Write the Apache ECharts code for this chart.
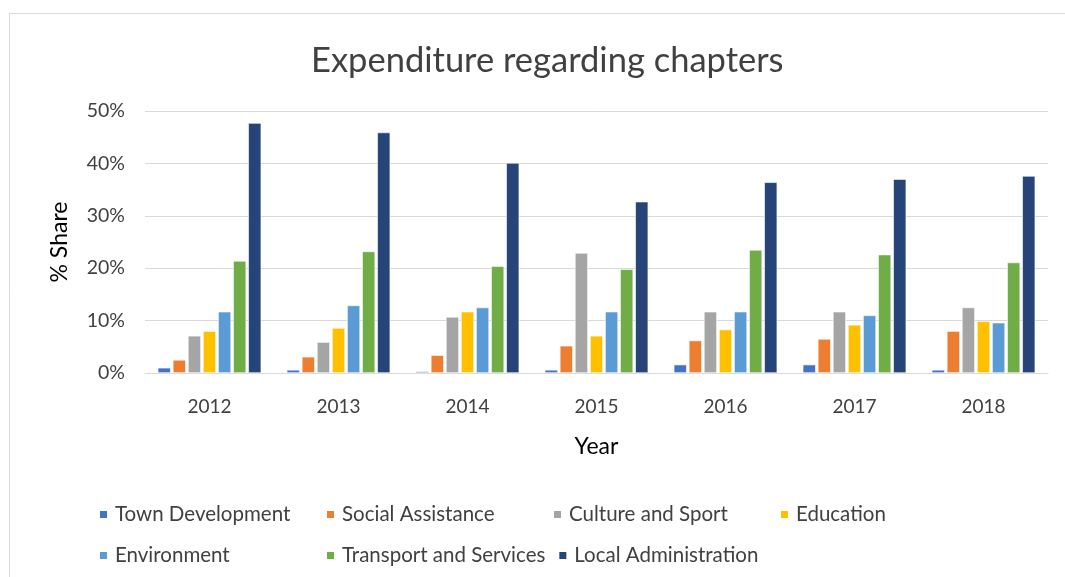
<!DOCTYPE html>
<html>
<head>
<meta charset="utf-8">
<style>
  html, body { margin: 0; padding: 0; background: #fff; }
  #chart { width: 1065px; height: 577px; }
</style>
<script src="https://cdn.jsdelivr.net/npm/echarts@6/dist/echarts.min.js"></script>
</head>
<body>
<div id="chart"></div>
<script>
// Years on the category axis
const years = ['2012', '2013', '2014', '2015', '2016', '2017', '2018'];

// Share of total expenditure (%) per chapter and year
const townDevelopment      = [1.0, 0.6, 0.3, 0.6, 1.6, 1.6, 0.6];
const socialAssistance     = [2.5, 3.1, 3.4, 5.2, 6.2, 6.5, 8.0];
const cultureAndSport      = [7.1, 5.9, 10.7, 22.9, 11.7, 11.7, 12.5];
const education            = [8.0, 8.6, 11.7, 7.1, 8.3, 9.2, 9.9];
const environment          = [11.7, 12.9, 12.5, 11.7, 11.7, 11.0, 9.6];
const transportAndServices = [21.4, 23.2, 20.4, 19.8, 23.5, 22.6, 21.1];
const localAdministration  = [47.7, 45.9, 40.1, 32.7, 36.4, 37.0, 37.6];

// Y-axis ticks (%)
const yTicks = [0, 10, 20, 30, 40, 50];

const seriesDefs = [
  ['Town Development', townDevelopment, '#4472C4'],
  ['Social Assistance', socialAssistance, '#ED7D31'],
  ['Culture and Sport', cultureAndSport, '#A5A5A5'],
  ['Education', education, '#FFC000'],
  ['Environment', environment, '#5B9BD5'],
  ['Transport and Services', transportAndServices, '#70AD47'],
  ['Local Administration', localAdministration, '#264478']
];

const FONT = 'Lato, "Open Sans", sans-serif';

const chart = echarts.init(document.getElementById('chart'), null, { renderer: 'canvas' });

chart.setOption({
  backgroundColor: '#ffffff',
  animation: false,
  textStyle: { fontFamily: FONT },
  title: {
    text: 'Expenditure regarding chapters',
    left: 306,
    top: 38,
    textStyle: { fontFamily: FONT, fontSize: 34.5, fontWeight: 'normal', color: '#404040' }
  },
  graphic: [{
    type: 'polyline',
    shape: { points: [[9.5, 577], [9.5, 13.5], [1065, 13.5]] },
    style: { stroke: '#D9D9D9', lineWidth: 1, fill: null },
    silent: true
  }],
  grid: { left: 145, right: 17, top: 111, height: 262, containLabel: false },
  legend: {
    left: 98,
    top: 500,
    width: 940,
    padding: 0,
    itemWidth: 9,
    itemHeight: 9,
    itemGap: 12,
    icon: 'rect',
    selectedMode: false,
    textStyle: { fontFamily: FONT, fontSize: 20.5, color: '#404040', width: 198, lineHeight: 29, padding: [0, 0, 0, 2] },
    data: seriesDefs.map(d => d[0])
  },
  xAxis: {
    type: 'category',
    data: years,
    name: 'Year',
    nameLocation: 'middle',
    nameGap: 62,
    nameTextStyle: { fontFamily: FONT, fontSize: 23, color: '#000000' },
    axisLine: { show: true, lineStyle: { color: '#D9D9D9', width: 1 } },
    axisTick: { show: false },
    axisLabel: { fontFamily: FONT, fontSize: 19, color: '#404040', margin: 24 }
  },
  yAxis: {
    type: 'value',
    min: yTicks[0],
    max: yTicks[yTicks.length - 1],
    interval: yTicks[1] - yTicks[0],
    name: '% Share',
    nameLocation: 'middle',
    nameGap: 74,
    nameTextStyle: { fontFamily: FONT, fontSize: 23, color: '#000000' },
    axisLine: { show: false },
    axisTick: { show: false },
    splitLine: { lineStyle: { color: '#D9D9D9', width: 1 } },
    axisLabel: { fontFamily: FONT, fontSize: 19.5, color: '#404040', margin: 20, formatter: v => v + '%' }
  },
  series: seriesDefs.map(([name, values, color]) => ({
    name,
    type: 'bar',
    data: values,
    barWidth: 13,
    barGap: '16%',
    itemStyle: { color, borderColor: '#ffffff', borderWidth: 0.6 }
  }))
});
</script>
</body>
</html>
